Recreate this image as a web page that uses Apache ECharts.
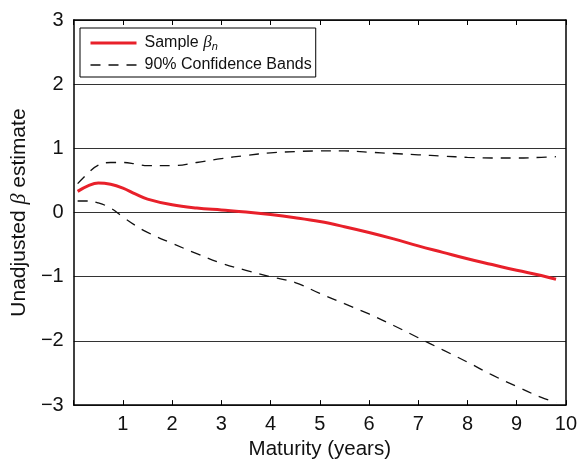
<!DOCTYPE html>
<html>
<head>
<meta charset="utf-8">
<script src="https://cdn.jsdelivr.net/npm/echarts@6/dist/echarts.min.js"></script>
<style>
html,body{margin:0;padding:0;background:#fff;}
#chart{width:580px;height:465px;}
</style>
</head>
<body>
<div id="chart"></div>
<script>
// Maturity (years)
const maturity = [0.08, 0.3, 0.5, 0.75, 1.0, 1.25, 1.5, 2.0, 2.5, 3.0, 3.5, 4.0, 4.5, 5.0, 5.5, 6.0, 6.5, 7.0, 7.5, 8.0, 8.5, 9.0, 9.5, 9.8];
// Sample beta_n
const sampleBeta = [0.33, 0.42, 0.46, 0.44, 0.38, 0.29, 0.21, 0.12, 0.07, 0.04, 0.01, -0.03, -0.08, -0.14, -0.22, -0.31, -0.41, -0.52, -0.62, -0.72, -0.81, -0.90, -0.98, -1.04];
// 90% confidence bands
const upperBand = [0.45, 0.62, 0.74, 0.78, 0.78, 0.76, 0.73, 0.73, 0.78, 0.84, 0.89, 0.93, 0.95, 0.96, 0.96, 0.94, 0.92, 0.90, 0.88, 0.86, 0.85, 0.85, 0.86, 0.87];
const lowerBand = [0.18, 0.18, 0.15, 0.07, -0.07, -0.20, -0.31, -0.48, -0.64, -0.79, -0.90, -1.00, -1.09, -1.26, -1.42, -1.58, -1.76, -1.95, -2.14, -2.33, -2.53, -2.71, -2.88, -2.96];
const xTicks = [0, 1, 2, 3, 4, 5, 6, 7, 8, 9, 10];
const yTicks = [-3, -2, -1, 0, 1, 2, 3];

const pairs = (ys) => maturity.map((x, i) => [x, ys[i]]);
const FONT = 'Liberation Sans';

const chart = echarts.init(document.getElementById('chart'), null, {renderer: 'canvas'});
chart.setOption({
  animation: false,
  backgroundColor: '#ffffff',
  textStyle: {fontFamily: FONT},
  grid: {left: 73, right: 13, top: 20, bottom: 53, containLabel: false},
  legend: {
    orient: 'vertical',
    left: 80,
    top: 28,
    padding: [5, 4, 4, 9],
    itemGap: 5,
    itemWidth: 46,
    itemHeight: 14,
    borderColor: '#000',
    borderWidth: 1,
    backgroundColor: '#fff',
    itemStyle: {opacity: 0},
    data: [
      {name: 'Sample', lineStyle: {color: '#e8202a', width: 3}},
      {name: '90% Confidence Bands', lineStyle: {color: '#111', width: 1.3, type: [10, 8]}}
    ],
    textStyle: {
      fontFamily: FONT, fontSize: 16, color: '#111', padding: [0, 0, 0, 3],
      rich: {
        t: {fontFamily: FONT, fontSize: 16, color: '#111', lineHeight: 18},
        b: {fontFamily: 'Liberation Serif', fontStyle: 'italic', fontSize: 17, color: '#111', lineHeight: 18},
        s: {fontFamily: FONT, fontStyle: 'italic', fontSize: 11, color: '#111', verticalAlign: 'bottom', lineHeight: 18, padding: [8, 0, 0, 0]}
      }
    },
    formatter: function (name) {
      if (name === 'Sample') return '{t|Sample }{b|β}{s|n}';
      return '{t|' + name + '}';
    }
  },
  xAxis: [{
    type: 'value',
    min: 0, max: 10, interval: 1,
    name: 'Maturity (years)',
    nameLocation: 'middle',
    nameGap: 30,
    nameTextStyle: {fontFamily: FONT, fontSize: 20.5, color: '#111'},
    axisLine: {show: true, onZero: false, lineStyle: {color: '#000', width: 1.5}},
    axisTick: {show: true, inside: true, length: 5, lineStyle: {color: '#000', width: 1}},
    axisLabel: {fontFamily: FONT, fontSize: 20, color: '#111', margin: 9,
      formatter: v => (v === 0 ? '' : String(v))},
    splitLine: {show: false}
  }, {
    type: 'value',
    position: 'top',
    min: 0, max: 10, interval: 1,
    axisLine: {show: true, onZero: false, lineStyle: {color: '#000', width: 1.5}},
    axisTick: {show: true, inside: true, length: 5, lineStyle: {color: '#000', width: 1}},
    axisLabel: {show: false},
    splitLine: {show: false}
  }],
  yAxis: [{
    type: 'value',
    min: -3, max: 3, interval: 1,
    name: '{t|Unadjusted }{b|β}{t| estimate}',
    nameLocation: 'middle',
    nameGap: 41,
    nameTextStyle: {
      fontFamily: FONT, fontSize: 21, color: '#111',
      rich: {
        t: {fontFamily: FONT, fontSize: 21, color: '#111'},
        b: {fontFamily: 'Liberation Serif', fontStyle: 'italic', fontSize: 22, color: '#111'}
      }
    },
    axisLine: {show: true, onZero: false, lineStyle: {color: '#000', width: 1.5}},
    axisTick: {show: false},
    axisLabel: {fontFamily: FONT, fontSize: 20, color: '#111', margin: 10,
      formatter: v => (v < 0 ? '\u2212' + Math.abs(v) : String(v))},
    splitLine: {show: true, lineStyle: {color: '#333', width: 1}}
  }, {
    type: 'value',
    position: 'right',
    min: -3, max: 3, interval: 1,
    axisLine: {show: true, onZero: false, lineStyle: {color: '#000', width: 1.5}},
    axisTick: {show: false},
    axisLabel: {show: false},
    splitLine: {show: false}
  }],
  series: [{
    name: '90% Confidence Bands',
    type: 'line',
    data: pairs(upperBand),
    smooth: 0.4,
    symbol: 'none',
    lineStyle: {color: '#111', width: 1.3, type: [10, 8]},
    itemStyle: {color: '#111'},
    z: 3
  }, {
    name: '90% Confidence Bands',
    type: 'line',
    data: pairs(lowerBand),
    smooth: 0.4,
    symbol: 'none',
    lineStyle: {color: '#111', width: 1.3, type: [10, 8]},
    itemStyle: {color: '#111'},
    z: 3
  }, {
    name: 'Sample',
    type: 'line',
    data: pairs(sampleBeta),
    smooth: 0.4,
    symbol: 'none',
    lineStyle: {color: '#e8202a', width: 3},
    itemStyle: {color: '#e8202a'},
    z: 4
  }]
});
</script>
</body>
</html>
